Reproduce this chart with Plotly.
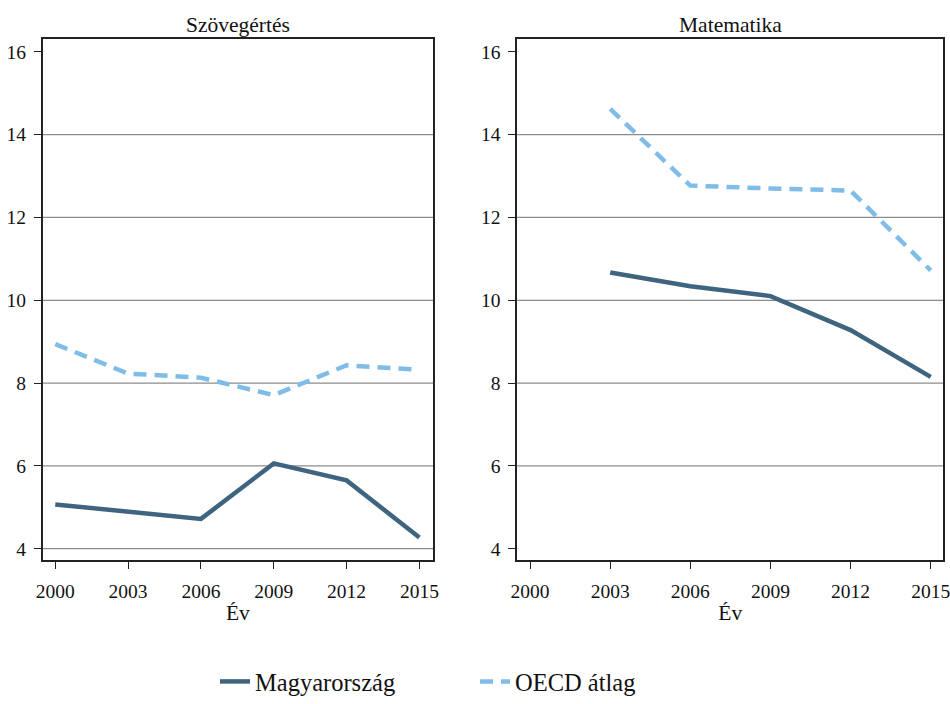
import plotly.graph_objects as go

years = [2000, 2003, 2006, 2009, 2012, 2015]
years_math = [2003, 2006, 2009, 2012, 2015]

read_hu = [5.07, 4.90, 4.72, 6.06, 5.65, 4.27]
read_oecd = [8.94, 8.23, 8.13, 7.71, 8.43, 8.32]
math_hu = [10.67, 10.34, 10.10, 9.28, 8.15]
math_oecd = [14.62, 12.77, 12.70, 12.65, 10.72]

panel_titles = ["Szövegértés", "Matematika"]
series_names = ["Magyarország", "OECD átlag"]
x_ticks = [2000, 2003, 2006, 2009, 2012, 2015]
y_ticks = [4, 6, 8, 10, 12, 14, 16]
grid_left = [4, 6, 8, 10, 12, 14]
grid_right = [6, 8, 10, 12, 14]

C_HU = "#3f647f"
C_OECD = "#7fbde8"
FONT = "Liberation Serif"

fig = go.Figure()

# gridlines (under traces)
for xr, vals in (("x", grid_left), ("x2", grid_right)):
    for v in vals:
        fig.add_shape(type="line", xref=f"{xr} domain", yref=xr.replace("x", "y"),
                      x0=0, x1=1, y0=v, y1=v, layer="below",
                      line=dict(color="#8c8c8c", width=1.3))

fig.add_trace(go.Scatter(x=years, y=read_hu, mode="lines", name=series_names[0],
                         legendgroup="hu", line=dict(color=C_HU, width=4.5),
                         xaxis="x", yaxis="y"))
fig.add_trace(go.Scatter(x=years, y=read_oecd, mode="lines", name=series_names[1],
                         legendgroup="oecd", line=dict(color=C_OECD, width=4.5, dash="13px,8px"),
                         xaxis="x", yaxis="y"))
fig.add_trace(go.Scatter(x=years_math, y=math_hu, mode="lines", name=series_names[0],
                         legendgroup="hu", showlegend=False, line=dict(color=C_HU, width=4.5),
                         xaxis="x2", yaxis="y2"))
fig.add_trace(go.Scatter(x=years_math, y=math_oecd, mode="lines", name=series_names[1],
                         legendgroup="oecd", showlegend=False,
                         line=dict(color=C_OECD, width=4.5, dash="13px,8px"),
                         xaxis="x2", yaxis="y2"))

xcommon = dict(tickvals=x_ticks, ticks="outside", ticklen=7, tickwidth=1.3, tickcolor="#222",
               showgrid=False, zeroline=False, showline=True, linecolor="#222", linewidth=1.8,
               mirror=True, tickfont=dict(family=FONT, size=19.5, color="#111"),
               ticklabelstandoff=5, automargin=False, ticklabeloverflow="allow",
               title=dict(text="Év", font=dict(family=FONT, size=21.5, color="#111"), standoff=4))
ycommon = dict(tickvals=y_ticks, ticks="outside", ticklen=7, tickwidth=1.3, tickcolor="#222",
               showgrid=False, zeroline=False, showline=True, linecolor="#222", linewidth=1.6,
               mirror=True, tickfont=dict(family=FONT, size=19.5, color="#111"),
               ticklabelstandoff=4, range=[3.72, 16.31], automargin=False)

fig.update_layout(
    width=950, height=704,
    margin=dict(l=0, r=0, t=0, b=0),
    paper_bgcolor="white", plot_bgcolor="white",
    xaxis=dict(domain=[0.0449, 0.4558], range=[1999.48, 2015.56], anchor="y", **xcommon),
    yaxis=dict(domain=[0.2041, 0.9446], anchor="x", **ycommon),
    xaxis2=dict(domain=[0.5445, 0.9929], range=[1999.52, 2015.47], anchor="y2", **xcommon),
    yaxis2=dict(domain=[0.2041, 0.9446], anchor="x2", **ycommon),
    legend=dict(orientation="h", x=215 / 950, xanchor="left", y=0.0, yanchor="bottom",
                font=dict(family=FONT, size=24.5, color="#111"), entrywidth=215,
                tracegroupgap=0, bgcolor="rgba(0,0,0,0)"),
    showlegend=True,
)

for i, t in enumerate(panel_titles):
    fig.add_annotation(text=t, xref=("x domain" if i == 0 else "x2 domain"),
                       yref="paper", x=0.5, y=1 - 25 / 704, yanchor="middle",
                       showarrow=False, font=dict(family=FONT, size=21.5, color="#111"))

fig.write_html("out.html", config={"displayModeBar": False},
               post_script="document.body.style.margin='0';document.body.style.padding='0';")
